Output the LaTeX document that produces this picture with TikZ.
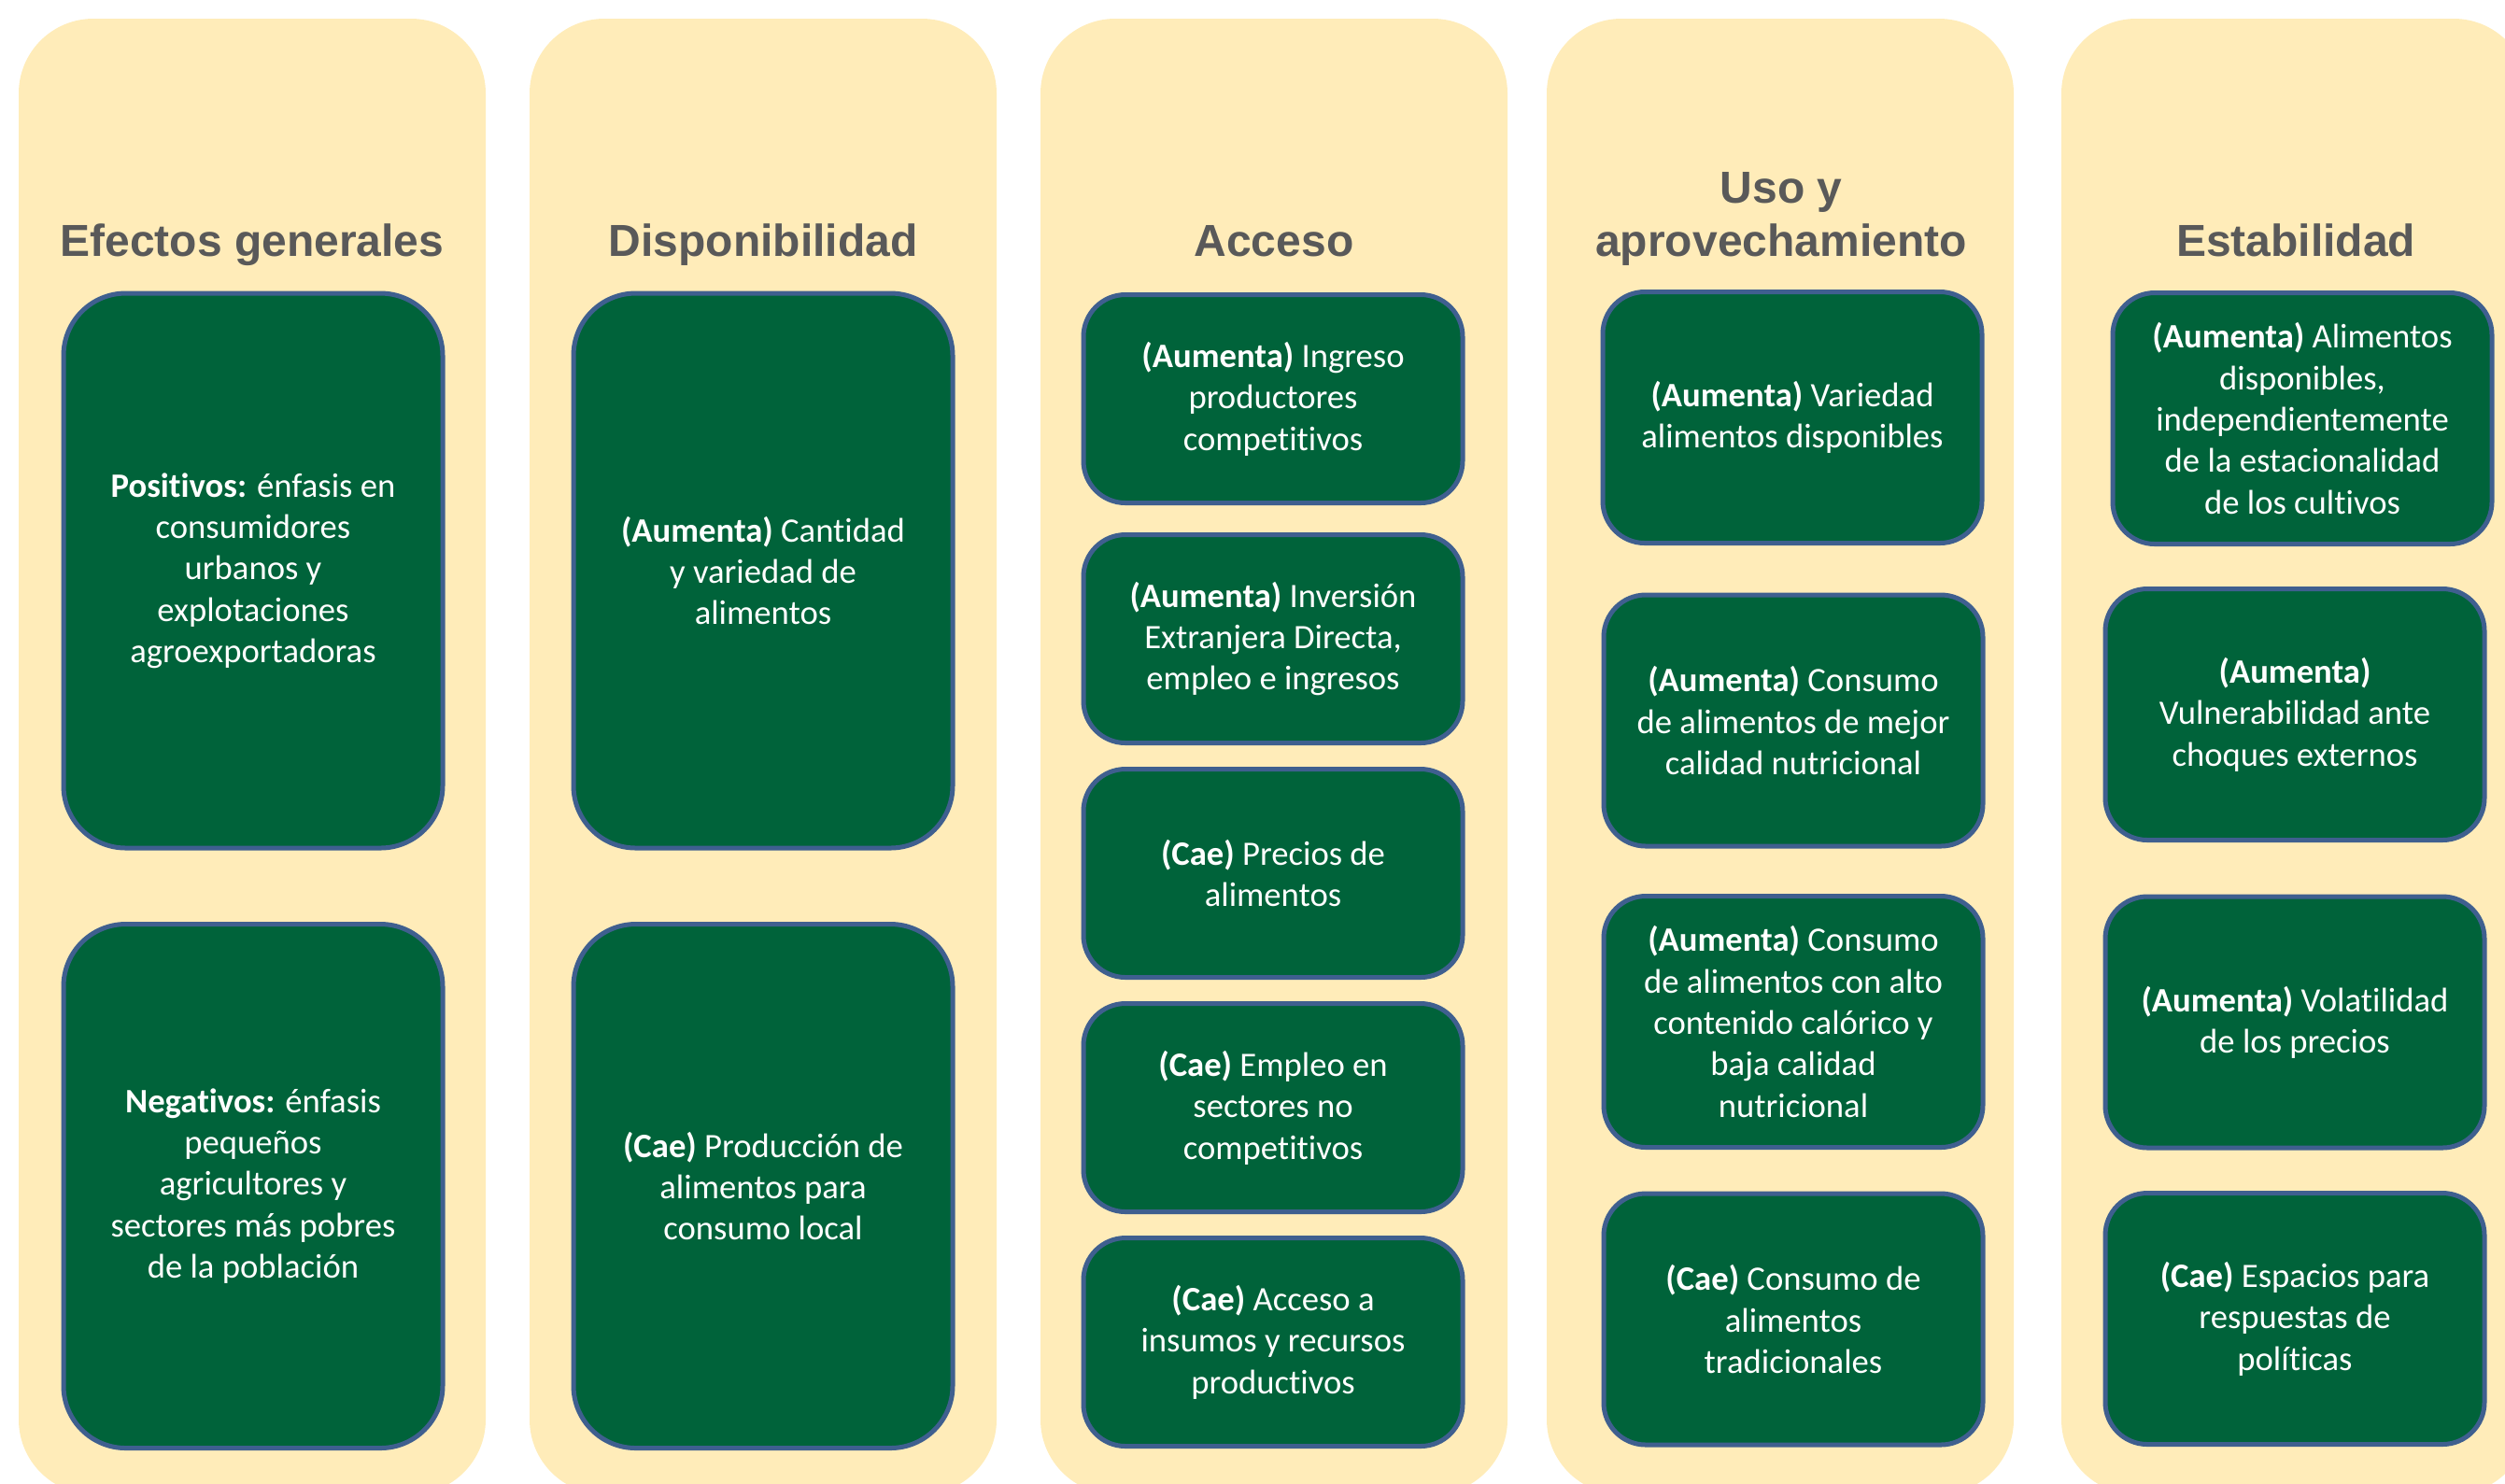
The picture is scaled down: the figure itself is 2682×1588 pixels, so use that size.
\documentclass[tikz,border=0pt]{standalone}
\usepackage{fontspec}
\usepackage{xcolor}
\setmainfont{Carlito}[Ligatures=NoCommon]
\newfontfamily\headfont{Liberation Sans}
\definecolor{colbg}{RGB}{255,236,185}
\definecolor{boxgreen}{RGB}{0,99,58}
\definecolor{boxline}{RGB}{63,95,143}
\definecolor{headgray}{RGB}{89,89,89}

\begin{document}
\begin{tikzpicture}[x=0.3pt,y=0.3pt,yscale=-1,xscale=1,
  column/.style={fill=colbg, rounded corners=24pt},
  greenbox/.style={draw=boxline, fill=boxgreen, line width=1.5pt, rounded corners=13.5pt,
    text=white, align=center, inner sep=0pt, minimum width=121.8pt,
    font=\fontsize{11pt}{13.3pt}\selectfont},
  tallbox/.style={greenbox, rounded corners=20pt},
  header/.style={text=headgray, align=center, inner sep=0pt, anchor=south, text depth=0pt,
    font=\headfont\bfseries\fontsize{14.4pt}{17.1pt}\selectfont}]
\useasboundingbox (0,0) rectangle (2682,1588);
\clip (0,0) rectangle (2682,1588);

% Columns
\path [column] (20,20) rectangle (520,1600);
\path [column] (567,20) rectangle (1067,1600);
\path [column] (1114,20) rectangle (1614,1600);
\path [column] (1656,20) rectangle (2156,1600);
\path [column] (2207,20) rectangle (2707,1600);

% Header Nodes
\node [header] (hEfectos) at (270,275) {Efectos generales};
\node [header] (hDisp) at (817,275) {Disponibilidad};
\node [header] (hAcceso) at (1364,275) {Acceso};
\node [header] (hUso) at (1907,275) {Uso y\\aprovechamiento};
\node [header] (hEstab) at (2458,275) {Estabilidad};

% Efectos generales
\node [tallbox, minimum height=178.2pt] (efPos) at (271,611) {\textbf{Positivos:} énfasis en\\consumidores\\urbanos y\\explotaciones\\agroexportadoras};
\node [tallbox, minimum height=168.3pt] (efNeg) at (271,1270) {\textbf{Negativos:} énfasis\\pequeños\\agricultores y\\sectores más pobres\\de la población};

% Disponibilidad
\node [tallbox, minimum height=178.2pt] (dispA) at (817,611) {\textbf{(Aumenta)} Cantidad\\y variedad de\\alimentos};
\node [tallbox, minimum height=168.3pt] (dispC) at (817,1270) {\textbf{(Cae)} Producción de\\alimentos para\\consumo local};

% Acceso
\node [greenbox, minimum height=66.9pt] (accA) at (1363,427) {\textbf{(Aumenta)} Ingreso\\productores\\competitivos};
\node [greenbox, minimum height=66.9pt] (accB) at (1363,684) {\textbf{(Aumenta)} Inversión\\Extranjera Directa,\\empleo e ingresos};
\node [greenbox, minimum height=66.9pt] (accC) at (1363,935) {\textbf{(Cae)} Precios de\\alimentos};
\node [greenbox, minimum height=66.9pt] (accD) at (1363,1186) {\textbf{(Cae)} Empleo en\\sectores no\\competitivos};
\node [greenbox, minimum height=66.9pt] (accE) at (1363,1437) {\textbf{(Cae)} Acceso a\\insumos y recursos\\productivos};

% Uso y aprovechamiento
\node [greenbox, minimum height=80.7pt] (usoA) at (1919,447) {\textbf{(Aumenta)} Variedad\\alimentos disponibles};
\node [greenbox, minimum height=80.7pt] (usoB) at (1920,771.5) {\textbf{(Aumenta)} Consumo\\de alimentos de mejor\\calidad nutricional};
\node [greenbox, minimum height=80.7pt] (usoC) at (1920,1094) {\textbf{(Aumenta)} Consumo\\de alimentos con alto\\contenido calórico y\\baja calidad\\nutricional};
\node [greenbox, minimum height=80.7pt] (usoD) at (1920,1412.5) {\textbf{(Cae)} Consumo de\\alimentos\\tradicionales};

% Estabilidad
\node [greenbox, minimum height=80.7pt] (estA) at (2465,448) {\textbf{(Aumenta)} Alimentos\\disponibles,\\independientemente\\de la estacionalidad\\de los cultivos};
\node [greenbox, minimum height=80.7pt] (estB) at (2457,765) {\textbf{(Aumenta)}\\Vulnerabilidad ante\\choques externos};
\node [greenbox, minimum height=80.7pt] (estC) at (2457,1094.5) {\textbf{(Aumenta)} Volatilidad\\de los precios};
\node [greenbox, minimum height=80.7pt] (estD) at (2457,1412) {\textbf{(Cae)} Espacios para\\respuestas de\\políticas};

\end{tikzpicture}
\end{document}
